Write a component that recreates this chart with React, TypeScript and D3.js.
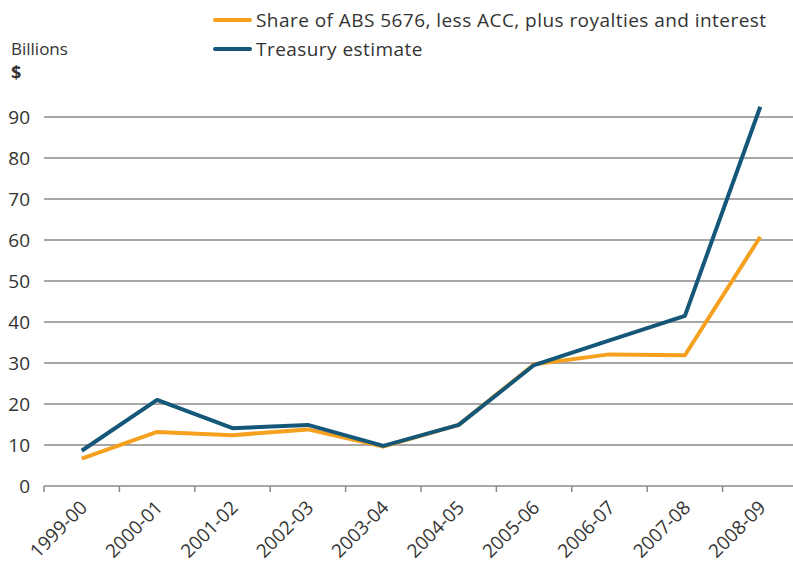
import React from "react";
import * as d3 from "d3";

const years = [
  "1999-00", "2000-01", "2001-02", "2002-03", "2003-04",
  "2004-05", "2005-06", "2006-07", "2007-08", "2008-09",
];
const shareValues = [6.7, 13.2, 12.4, 13.8, 9.6, 14.9, 29.7, 32.1, 31.9, 60.8];
const treasuryValues = [8.6, 21.0, 14.1, 14.9, 9.8, 14.9, 29.5, 35.5, 41.5, 92.5];
const yTicks = [0, 10, 20, 30, 40, 50, 60, 70, 80, 90];

const series = [
  { label: "Share of ABS 5676, less ACC, plus royalties and interest", values: shareValues, color: "#F6A020" },
  { label: "Treasury estimate", values: treasuryValues, color: "#155779" },
];

const width = 793;
const height = 563;
const margins = { top: 117, right: -5, bottom: 77, left: 44 };
const font = "'Open Sans', sans-serif";

const App = () => {
  const xScale = d3
    .scaleBand()
    .domain(years)
    .range([margins.left, width - margins.right]);

  const yScale = d3
    .scaleLinear()
    .domain([0, 90])
    .range([height - margins.bottom, margins.top]);

  const valueLine = d3
    .line<number>()
    .x((d, i) => xScale(years[i])! + xScale.bandwidth() / 2)
    .y((d) => yScale(d));

  const y0 = yScale(0);

  return (
    <svg
      width={width}
      height={height}
      style={{ position: "absolute", left: 0, top: 0, fontFamily: font }}
    >
      <rect width={width} height={height} fill="#fff" />
      {/* grid */}
      {yTicks.map((t) => (
        <g key={t}>
          <line
            x1={margins.left}
            x2={width}
            y1={yScale(t)}
            y2={yScale(t)}
            stroke="#8a8a8a"
            strokeWidth={1.5}
          />
          <text
            x={30}
            y={yScale(t)}
            dy="0.36em"
            textAnchor="end"
            fontSize={19}
            fill="#333"
          >
            {t}
          </text>
        </g>
      ))}
      {/* x ticks */}
      {years.map((y) => (
        <line
          key={y}
          x1={xScale(y)!}
          x2={xScale(y)!}
          y1={y0}
          y2={y0 + 6}
          stroke="#8a8a8a"
          strokeWidth={1.5}
        />
      ))}
      {years.map((y) => {
        const cx = xScale(y)! + xScale.bandwidth() / 2;
        return (
          <text
            key={y}
            transform={`translate(${cx + 2}, ${y0 + 18}) rotate(-45)`}
            textAnchor="end"
            dy="0.35em"
            fontSize={19}
            fill="#333"
          >
            {y}
          </text>
        );
      })}
      {/* lines */}
      {series.map((s) => (
        <path
          key={s.label}
          d={valueLine(s.values)!}
          fill="none"
          stroke={s.color}
          strokeWidth={4}
          strokeLinejoin="round"
        />
      ))}
      {/* axis titles */}
      <text x={11} y={55} fontSize={17} fill="#333">Billions</text>
      <text x={11} y={79} fontSize={18} fontWeight="bold" fill="#333">$</text>
      {/* legend */}
      {series.map((s, i) => (
        <g key={s.label} transform={`translate(215, ${20 + i * 29})`}>
          <line x1={0} x2={35} y1={0} y2={0} stroke={s.color} strokeWidth={4} strokeLinecap="round" />
          <text x={41} y={0} dy="0.36em" fontSize={19} letterSpacing={0.45} fill="#333">
            {s.label}
          </text>
        </g>
      ))}
    </svg>
  );
};

export default App;
